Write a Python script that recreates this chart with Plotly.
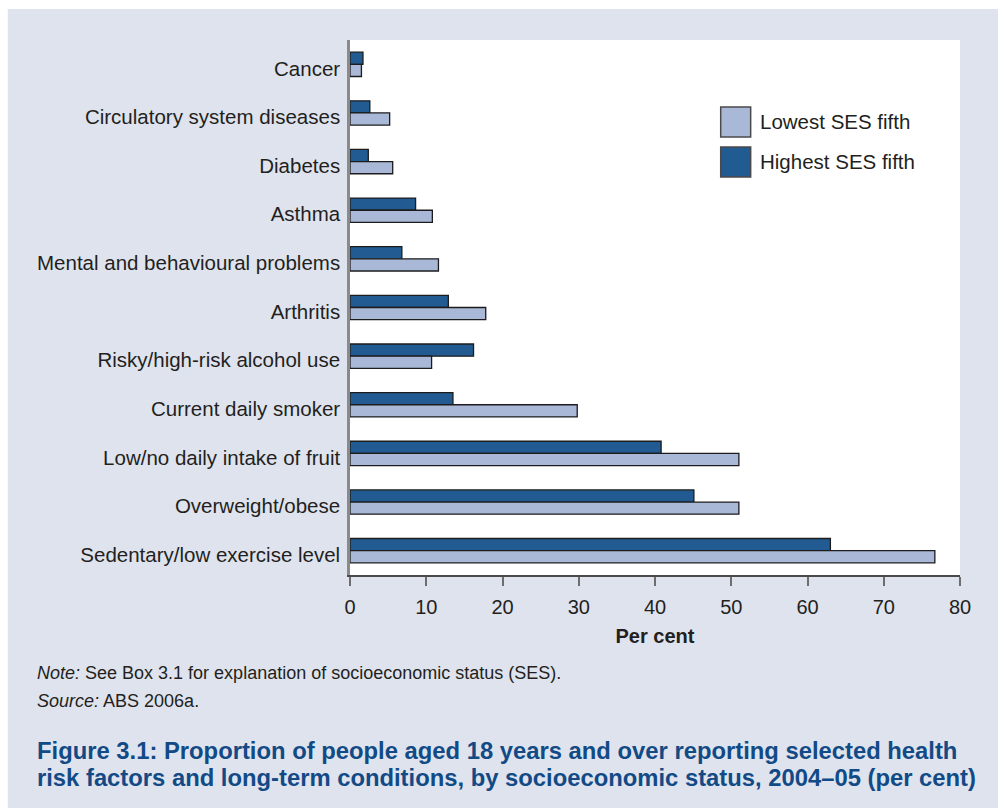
import plotly.graph_objects as go

categories = [
    "Cancer",
    "Circulatory system diseases",
    "Diabetes",
    "Asthma",
    "Mental and behavioural problems",
    "Arthritis",
    "Risky/high-risk alcohol use",
    "Current daily smoker",
    "Low/no daily intake of fruit",
    "Overweight/obese",
    "Sedentary/low exercise level",
]
highest_ses = [1.7, 2.6, 2.4, 8.6, 6.8, 12.9, 16.2, 13.5, 40.8, 45.1, 63.0]
lowest_ses = [1.5, 5.2, 5.6, 10.8, 11.6, 17.8, 10.7, 29.8, 51.0, 51.0, 76.7]
x_ticks = [0, 10, 20, 30, 40, 50, 60, 70, 80]
series_names = ["Lowest SES fifth", "Highest SES fifth"]

W, H = 998, 808
L, R, T, B = 349.5, 960, 40, 575
FONT = "Liberation Sans, Arial, Helvetica, sans-serif"
TXT = "#231f20"
LOW_C = "#a9b8d7"
HIGH_C = "#225b91"
BG = "#dfe3ee"


def px(x):
    """page pixel x -> paper coordinate"""
    return (x - L) / (R - L)


def py(y):
    """page pixel y -> paper coordinate"""
    return (B - y) / (B - T)


fig = go.Figure()
fig.add_trace(go.Bar(
    y=categories, x=highest_ses, orientation="h", name=series_names[1],
    marker=dict(color=HIGH_C, line=dict(color="#1c1c1c", width=1.3)),
    showlegend=False,
))
fig.add_trace(go.Bar(
    y=categories, x=lowest_ses, orientation="h", name=series_names[0],
    marker=dict(color=LOW_C, line=dict(color="#1c1c1c", width=1.3)),
    showlegend=False,
))

shapes = [
    # white border strips around the light panel
    dict(type="rect", xref="paper", yref="paper", x0=px(-5), x1=px(W + 5),
         y0=py(9), y1=py(-5), fillcolor="white", line=dict(width=0), layer="above"),
    dict(type="rect", xref="paper", yref="paper", x0=px(-5), x1=px(7),
         y0=py(H + 5), y1=py(-5), fillcolor="white", line=dict(width=0), layer="above"),
]
annotations = []
# legend drawn with large square swatches
leg = [(series_names[0], LOW_C, 107, 137), (series_names[1], HIGH_C, 147, 177)]
for name, col, y0, y1 in leg:
    shapes.append(dict(type="rect", xref="paper", yref="paper",
                       x0=px(720.5), x1=px(750.5), y0=py(y1), y1=py(y0),
                       fillcolor=col, line=dict(color="#4a4a4a", width=1.5)))
    annotations.append(dict(xref="paper", yref="paper", x=px(758), y=py((y0 + y1) / 2 - 1),
                            text=name, showarrow=False, xanchor="left", yanchor="middle",
                            font=dict(family=FONT, size=20.5, color=TXT)))

annotations += [
    dict(xref="paper", yref="paper", x=px(34), y=py(673),
         text="<i>Note:</i> See Box 3.1 for explanation of socioeconomic status (SES).",
         showarrow=False, xanchor="left", yanchor="middle",
         font=dict(family=FONT, size=18, color=TXT)),
    dict(xref="paper", yref="paper", x=px(34), y=py(701),
         text="<i>Source:</i> ABS 2006a.",
         showarrow=False, xanchor="left", yanchor="middle",
         font=dict(family=FONT, size=18, color=TXT)),
    dict(xref="paper", yref="paper", x=px(34), y=py(750),
         text="<b>Figure 3.1: Proportion of people aged 18 years and over reporting selected health</b>",
         showarrow=False, xanchor="left", yanchor="middle",
         font=dict(family=FONT, size=23.8, color="#124a86")),
    dict(xref="paper", yref="paper", x=px(34), y=py(777),
         text="<b>risk factors and long-term conditions, by socioeconomic status, 2004–05 (per cent)</b>",
         showarrow=False, xanchor="left", yanchor="middle",
         font=dict(family=FONT, size=23.8, color="#124a86")),
]

fig.update_layout(
    width=W, height=H,
    margin=dict(l=L, r=W - R, t=T, b=H - B, autoexpand=False),
    paper_bgcolor=BG, plot_bgcolor="white",
    barmode="group", bargap=0.5, bargroupgap=0,
    font=dict(family=FONT, size=20, color=TXT),
    shapes=shapes, annotations=annotations,
    showlegend=False,
)
fig.update_xaxes(
    range=[0, 80], tickvals=x_ticks, ticks="outside", ticklen=9, tickwidth=1.5,
    tickcolor="#6e6e6e", showline=True, linecolor="#4a4a4a", linewidth=1.5,
    showgrid=False, zeroline=False, tickfont=dict(size=20, color=TXT),
    ticklabelstandoff=4,
    title=dict(text="<b>Per cent</b>", font=dict(size=20, color=TXT), standoff=12),
)
fig.update_yaxes(
    autorange="reversed", showline=True, linecolor="#8a8a8a", linewidth=2.5,
    ticks="", showgrid=False, zeroline=False, ticklabelstandoff=3,
    ticklabelshift=-4,
    tickfont=dict(size=20.5, color=TXT),
)

fig.write_html(
    "out.html",
    config={"displayModeBar": False},
    post_script="document.body.style.margin='0';document.body.style.overflow='hidden';",
)
